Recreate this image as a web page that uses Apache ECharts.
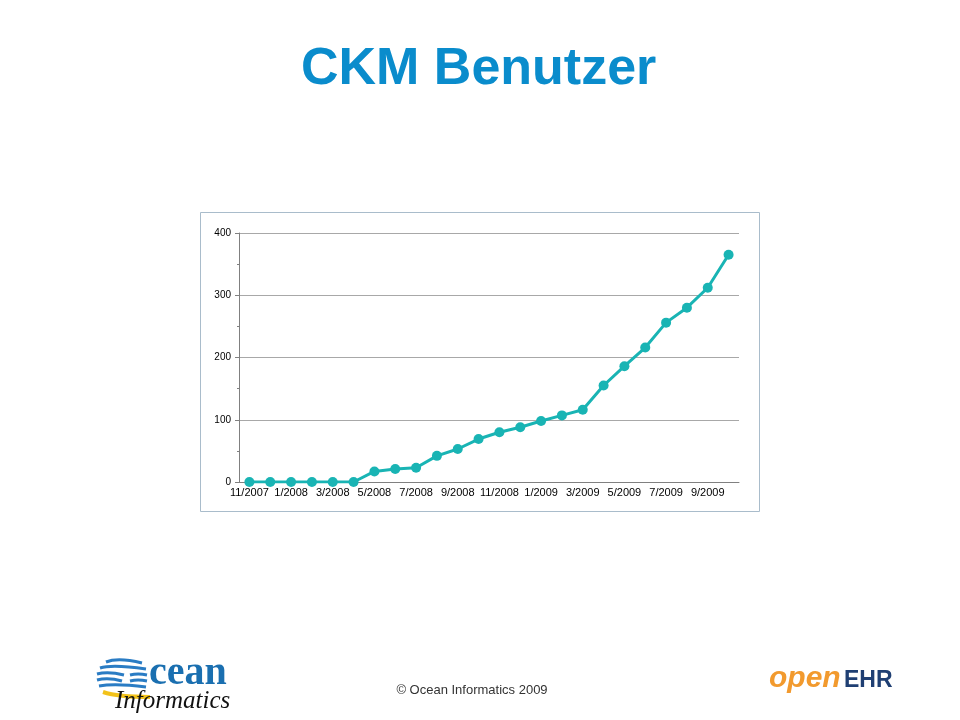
<!DOCTYPE html>
<html><head><meta charset="utf-8">
<script src="https://cdn.jsdelivr.net/npm/echarts@6/dist/echarts.min.js"></script>
<style>html,body{margin:0;padding:0;background:#fff}#c{width:960px;height:720px}</style>
</head><body><div id="c"></div>
<script>
const categories = ['11/2007','12/2007','1/2008','2/2008','3/2008','4/2008','5/2008','6/2008','7/2008','8/2008','9/2008','10/2008','11/2008','12/2008','1/2009','2/2009','3/2009','4/2009','5/2009','6/2009','7/2009','8/2009','9/2009','10/2009'];
const users = [0,0,0,0,0,0,17,21,23,42,53,69,80,88,98,107,116,155,186,216,256,280,312,365];
const yTicks = [0,100,200,300,400];

const chart = echarts.init(document.getElementById('c'));
const blue = '#2a7cc4';
chart.setOption({
  backgroundColor:'#fff',
  animation:false,
  title:{text:'CKM Benutzer',left:296,top:39,textStyle:{fontFamily:'Liberation Sans',fontWeight:'bold',fontSize:52,color:'#0a8ccc'}},
  grid:{left:239,top:233,width:500,height:249},
  xAxis:{type:'category',data:categories,boundaryGap:true,
    axisLine:{lineStyle:{color:'#808080'}},axisTick:{show:false},
    axisLabel:{interval:1,color:'#000',fontFamily:'Liberation Sans',fontSize:11,margin:5}},
  yAxis:{type:'value',min:yTicks[0],max:yTicks[yTicks.length-1],interval:100,
    axisLine:{show:true,lineStyle:{color:'#808080'}},
    axisTick:{show:true,length:4,lineStyle:{color:'#808080'}},
    minorTick:{show:true,splitNumber:2,length:2,lineStyle:{color:'#808080'}},
    splitLine:{lineStyle:{color:'#a8a8a8'}},
    axisLabel:{color:'#000',fontFamily:'Liberation Sans',fontSize:10,margin:8}},
  series:[{type:'line',data:users,symbol:'circle',symbolSize:10,
    lineStyle:{color:'#19b4b4',width:3},itemStyle:{color:'#19b4b4'}}],
  graphic:[
    {type:'rect',shape:{x:200.5,y:212.5,width:559,height:299},style:{fill:'none',stroke:'#a9bccb',lineWidth:1},z:-1},
    {type:'text',x:472,y:684,style:{text:'© Ocean Informatics 2009',align:'center',fontFamily:'Liberation Sans',fontSize:13,fill:'#333'}},
    // Ocean Informatics logo approximation
    {type:'bezierCurve',shape:{x1:106,y1:662,cpx1:118,cpy1:657,x2:142,y2:663},style:{fill:'none',stroke:blue,lineWidth:3}},
    {type:'bezierCurve',shape:{x1:100,y1:668,cpx1:112,cpy1:664,x2:146,y2:669},style:{fill:'none',stroke:blue,lineWidth:3}},
    {type:'bezierCurve',shape:{x1:97,y1:674,cpx1:108,cpy1:671,x2:124,y2:675},style:{fill:'none',stroke:blue,lineWidth:3}},
    {type:'bezierCurve',shape:{x1:130,y1:675,cpx1:138,cpy1:673,x2:147,y2:675},style:{fill:'none',stroke:blue,lineWidth:3}},
    {type:'bezierCurve',shape:{x1:97,y1:680,cpx1:108,cpy1:677,x2:122,y2:681},style:{fill:'none',stroke:blue,lineWidth:3}},
    {type:'bezierCurve',shape:{x1:130,y1:681,cpx1:138,cpy1:679,x2:147,y2:681},style:{fill:'none',stroke:blue,lineWidth:3}},
    {type:'bezierCurve',shape:{x1:99,y1:686,cpx1:115,cpy1:683,x2:146,y2:687},style:{fill:'none',stroke:blue,lineWidth:3}},
    {type:'bezierCurve',shape:{x1:103,y1:692,cpx1:118,cpy1:697,x2:150,y2:697},style:{fill:'none',stroke:'#f2c21a',lineWidth:4}},
    {type:'text',x:149,y:674,style:{text:'cean',verticalAlign:'middle',fontFamily:'Liberation Serif',fontWeight:'bold',fontSize:40,fill:'#1a6fb0'}},
    {type:'text',x:115,y:701,style:{text:'Informatics',verticalAlign:'middle',fontFamily:'Liberation Serif',fontStyle:'italic',fontSize:25,fill:'#111'}},
    // openEHR logo approximation
    {type:'text',x:769,y:679,style:{text:'open',verticalAlign:'middle',fontFamily:'Liberation Sans',fontStyle:'italic',fontWeight:'bold',fontSize:30,fill:'#f29a2e',shadowColor:'rgba(0,0,0,0.25)',shadowBlur:3,shadowOffsetX:2,shadowOffsetY:2}},
    {type:'text',x:844,y:681,style:{text:'EHR',verticalAlign:'middle',fontFamily:'Liberation Sans',fontWeight:'bold',fontSize:23,fill:'#1f3f73',shadowColor:'rgba(0,0,0,0.25)',shadowBlur:3,shadowOffsetX:2,shadowOffsetY:2}}
  ]
});
</script></body></html>
